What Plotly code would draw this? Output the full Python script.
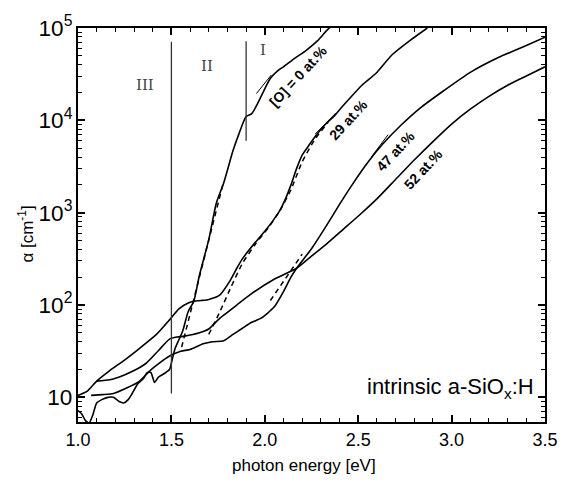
import plotly.graph_objects as go

# ---------------- data ----------------
e_o0 = [1.00, 1.02, 1.04, 1.06, 1.08, 1.10, 1.13, 1.16, 1.19, 1.22, 1.245, 1.27, 1.29,
        1.32, 1.35, 1.37, 1.39, 1.41, 1.43, 1.46, 1.49, 1.505, 1.52, 1.54, 1.56, 1.59,
        1.62, 1.65, 1.70, 1.74, 1.78, 1.83, 1.86, 1.90, 1.93, 1.96, 1.99, 2.03,
        2.07, 2.10, 2.16, 2.22, 2.28, 2.34, 2.36]
a_o0 = [7.2, 6.6, 5.6, 5.3, 6.5, 8.7, 9.5, 10.0, 10.0, 9.0, 8.7, 9.5, 11,
        14, 16, 18.5, 18.6, 14.5, 16.5, 18, 20, 26, 34, 42, 52, 85,
        110, 210, 510, 1260, 2100, 4700, 7000, 11000, 11800, 15000, 20000, 28500,
        34500, 38000, 47000, 57000, 72000, 98000, 105000]

e_o29 = [1.00, 1.05, 1.10, 1.17, 1.245, 1.33, 1.42, 1.49, 1.54, 1.59, 1.62, 1.66, 1.70,
         1.76, 1.81, 1.85, 1.88, 1.95, 2.00, 2.04, 2.08, 2.11, 2.14, 2.17, 2.20, 2.24,
         2.28, 2.33, 2.37, 2.42, 2.46, 2.52, 2.60, 2.68, 2.78, 2.87]
a_o29 = [10.5, 11.7, 15, 19.5, 25, 34, 48, 69, 91, 105, 110, 112, 115,
         129, 178, 250, 316, 480, 630, 800, 1050, 1400, 2000, 3000, 4200, 5500,
         7100, 9300, 11000, 14500, 17800, 24000, 33000, 51000, 74000, 100000]

e_o47 = [1.07, 1.13, 1.19, 1.26, 1.33, 1.38, 1.43, 1.49, 1.55, 1.60, 1.67, 1.72, 1.78,
         1.83, 1.88, 1.93, 1.98, 2.05, 2.10, 2.14, 2.17, 2.25, 2.33, 2.40, 2.47, 2.55,
         2.63, 2.73, 2.83, 2.95, 3.10, 3.25, 3.40, 3.50]
a_o47 = [10.5, 10.7, 11, 12.6, 15, 19, 23, 28, 31.6, 33, 38, 40, 41,
         48, 56, 65, 72, 95, 140, 200, 250, 407, 724, 1230, 2040, 3470,
         5500, 8900, 13500, 20400, 33100, 47900, 64600, 79400]

e_o52 = [1.10, 1.17, 1.245, 1.30, 1.365, 1.43, 1.49, 1.53, 1.57, 1.65, 1.70, 1.72, 1.76,
         1.80, 1.85, 1.92, 2.05, 2.17, 2.25, 2.33, 2.42, 2.51, 2.60, 2.70, 2.80, 2.90,
         3.00, 3.10, 3.20, 3.30, 3.40, 3.50]
a_o52 = [15, 15.5, 17.4, 19.5, 23.4, 32, 42.7, 45, 46, 50, 55, 60, 72,
         83, 100, 129, 190, 250, 339, 457, 661, 955, 1410, 2290, 3720, 5890,
         9120, 13200, 18200, 24000, 30200, 38000]

# dashed fits
e_fit0 = [1.555, 1.775]
a_fit0 = [35, 2000]
e_fit29 = [1.70, 1.76, 1.82, 1.88, 1.95, 2.02, 2.08, 2.14, 2.20, 2.27, 2.34]
a_fit29 = [48, 85, 158, 282, 457, 692, 1047, 1778, 3548, 6310, 9550]
e_fit47 = [2.03, 2.20]
a_fit47 = [112, 355]

# short solid tangents
e_tan0 = [1.955, 2.035]
a_tan0 = [19500, 31000]
e_tan29 = [2.27, 2.38]
a_tan29 = [7100, 12000]
e_tan47 = [2.57, 2.66]
a_tan47 = [4000, 7000]

# region boundaries
e_b3 = [1.5, 1.5]
a_b3 = [11, 71000]
e_b2 = [1.9, 1.9]
a_b2 = [6000, 72000]

regions = ["III", "II", "I"]
region_e = [1.36, 1.69, 1.99]
region_loga = [4.38, 4.59, 4.76]

labels = ["[O] = 0 at.%", "29 at.%", "47 at.%", "52 at.%"]
label_e = [2.18, 2.446, 2.70, 2.85]
label_loga = [4.476, 4.005, 3.67, 3.47]

# ---------------- figure ----------------
fig = go.Figure()
solid = dict(color="black", width=1.6, shape="spline", smoothing=0.6)

for e, a in [(e_o0, a_o0), (e_o29, a_o29), (e_o47, a_o47), (e_o52, a_o52)]:
    fig.add_trace(go.Scatter(x=e, y=a, mode="lines", line=solid, showlegend=False))

for e, a in [(e_fit0, a_fit0), (e_fit29, a_fit29), (e_fit47, a_fit47)]:
    fig.add_trace(go.Scatter(x=e, y=a, mode="lines",
                             line=dict(color="black", width=1.5, dash="5px,4px",
                                       shape="spline", smoothing=0.6),
                             showlegend=False))

for e, a in [(e_tan0, a_tan0), (e_tan29, a_tan29), (e_tan47, a_tan47)]:
    fig.add_trace(go.Scatter(x=e, y=a, mode="lines", line=dict(color="black", width=1.0),
                             showlegend=False))

for e, a in [(e_b3, a_b3), (e_b2, a_b2)]:
    fig.add_trace(go.Scatter(x=e, y=a, mode="lines", line=dict(color="#333", width=1.3),
                             showlegend=False))

for t, x, y in zip(regions, region_e, region_loga):
    fig.add_annotation(x=x, y=y, xref="x", yref="y", text=t, showarrow=False,
                       font=dict(family="DejaVu Serif, Liberation Serif", size=15, color="#444"))

for t, x, y in zip(labels, label_e, label_loga):
    fig.add_annotation(x=x, y=y, xref="x", yref="y", text="<b>" + t + "</b>",
                       showarrow=False, textangle=-47,
                       font=dict(family="Liberation Sans, Arial", size=14, color="black"))

fig.add_annotation(x=3.45, y=1.096, xref="x", yref="y", xanchor="right", yanchor="middle",
                   text="intrinsic a-SiO<sub>x</sub>:H", showarrow=False,
                   font=dict(family="Liberation Sans, Arial", size=22, color="black"))

fig.add_annotation(x=0.485, y=-0.111, xref="paper", yref="paper", yanchor="middle",
                   text="photon energy [eV]", showarrow=False,
                   font=dict(family="Liberation Sans, Arial", size=17, color="black"))
fig.add_annotation(x=-0.111, y=0.476, xref="paper", yref="paper", textangle=-90,
                   xanchor="center", yanchor="middle",
                   text="α [cm<sup>-1</sup>]", showarrow=False,
                   font=dict(family="Liberation Sans, Arial", size=17, color="black"))

axis_common = dict(showline=True, linecolor="black", linewidth=2, mirror="allticks",
                   ticks="inside", ticklen=7, tickwidth=1.5, tickcolor="black",
                   showgrid=False, zeroline=False,
                   tickfont=dict(family="Liberation Sans, Arial", size=18, color="black"))

fig.update_xaxes(range=[1.0, 3.5], tick0=1.0, dtick=0.5, tickformat=".1f",
                 minor=dict(ticks="inside", ticklen=4, dtick=0.1, tickcolor="black",
                            tickwidth=1.2, showgrid=False),
                 **axis_common)
fig.update_yaxes(type="log", range=[0.733, 5], dtick=1, exponentformat="power",
                 minor=dict(ticks="inside", ticklen=4, tickcolor="black", tickwidth=1.2,
                            showgrid=False),
                 **axis_common)

fig.update_layout(width=570, height=483, margin=dict(l=78, r=13, t=23, b=61),
                  plot_bgcolor="white", paper_bgcolor="white")

fig.write_html("out.html")
